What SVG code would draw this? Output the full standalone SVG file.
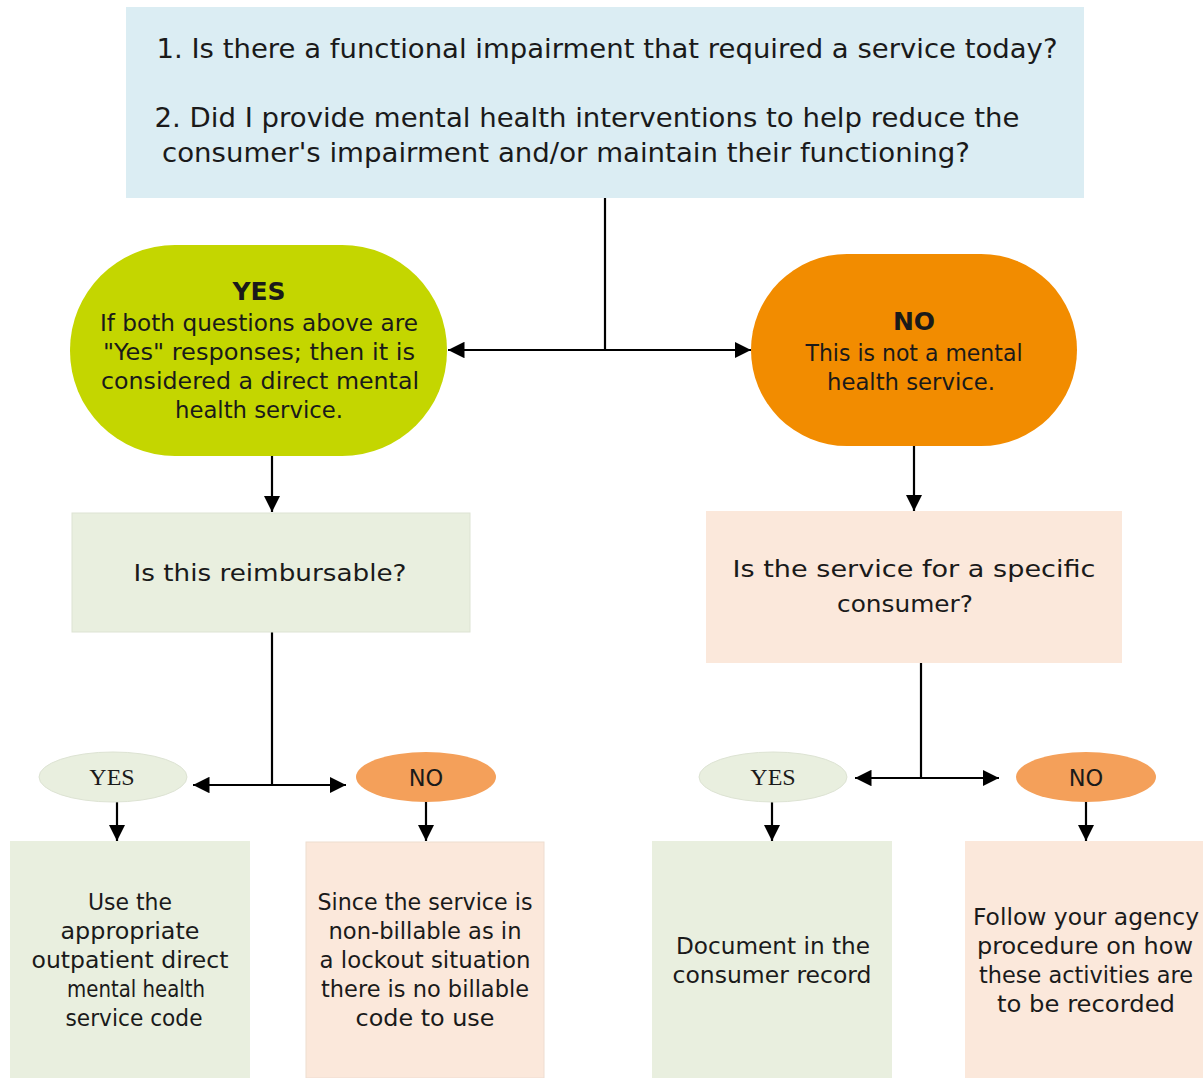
<svg xmlns="http://www.w3.org/2000/svg" width="1203" height="1078" viewBox="0 0 1203 1078">
<style>
.t{font-family:"DejaVu Sans","Liberation Sans",sans-serif;fill:#1a1a1a;text-anchor:middle}
.top{font-size:27px}
.b{font-size:22.5px}
.bold{font-weight:bold;font-size:25px}
.serif{font-family:"Liberation Serif",serif;font-size:24px;fill:#1a1a1a;text-anchor:middle}
.ln{stroke:#000;stroke-width:2.2;fill:none}
.green{fill:#e9efdf}
.pink{fill:#fbe8db}
</style>
<defs>
<marker id="ah" viewBox="0 0 10 10" refX="10" refY="5" markerWidth="7.5" markerHeight="7.5" markerUnits="strokeWidth" orient="auto-start-reverse">
<path d="M0,0 L10,5 L0,10 z" fill="#000"/>
</marker>
</defs>
<rect width="1203" height="1078" fill="#fff"/>
<g id="connectors">
<path class="ln" d="M605,198 V350"/>
<path class="ln" d="M448,350 H751" marker-start="url(#ah)" marker-end="url(#ah)"/>
<path class="ln" d="M272,456 V512" marker-end="url(#ah)"/>
<path class="ln" d="M914,446 V511" marker-end="url(#ah)"/>
<path class="ln" d="M272,632 V785"/>
<path class="ln" d="M193,785 H346" marker-start="url(#ah)" marker-end="url(#ah)"/>
<path class="ln" d="M117,802 V841" marker-end="url(#ah)"/>
<path class="ln" d="M426,802 V841" marker-end="url(#ah)"/>
<path class="ln" d="M921,663 V778"/>
<path class="ln" d="M855,778 H999" marker-start="url(#ah)" marker-end="url(#ah)"/>
<path class="ln" d="M772,802 V841" marker-end="url(#ah)"/>
<path class="ln" d="M1086,802 V841" marker-end="url(#ah)"/>
</g>
<g id="questions">
<rect x="126" y="7" width="958" height="191" fill="#dbedf3"/>
<text class="t top" x="607" y="58" textLength="901" lengthAdjust="spacingAndGlyphs">1. Is there a functional impairment that required a service today?</text>
<text class="t top" x="587" y="127" textLength="865" lengthAdjust="spacingAndGlyphs">2. Did I provide mental health interventions to help reduce the</text>
<text class="t top" x="566" y="162" textLength="808" lengthAdjust="spacingAndGlyphs">consumer's impairment and/or maintain their functioning?</text>
</g>
<g id="yes-main">
<rect x="70" y="245" width="377" height="211" rx="105" fill="#c4d600"/>
<text class="t bold" x="259" y="300">YES</text>
<text class="t b" x="259" y="331" textLength="318" lengthAdjust="spacingAndGlyphs">If both questions above are</text>
<text class="t b" x="259" y="360" textLength="312" lengthAdjust="spacingAndGlyphs">"Yes" responses; then it is</text>
<text class="t b" x="260" y="389" textLength="318" lengthAdjust="spacingAndGlyphs">considered a direct mental</text>
<text class="t b" x="259" y="418" textLength="168" lengthAdjust="spacingAndGlyphs">health service.</text>
</g>
<g id="no-main">
<rect x="751" y="254" width="326" height="192" rx="96" fill="#f28c00"/>
<text class="t bold" x="914" y="330">NO</text>
<text class="t b" x="914" y="361" textLength="217" lengthAdjust="spacingAndGlyphs">This is not a mental</text>
<text class="t b" x="911" y="390" textLength="168" lengthAdjust="spacingAndGlyphs">health service.</text>
</g>
<g id="reimbursable">
<rect class="green" x="72" y="513" width="398" height="119" stroke="#dde3d3" stroke-width="1"/>
<text class="t b" x="270" y="581" textLength="273" lengthAdjust="spacingAndGlyphs">Is this reimbursable?</text>
</g>
<g id="specific">
<rect class="pink" x="706" y="511" width="416" height="152"/>
<text class="t b" x="914" y="577" textLength="363" lengthAdjust="spacingAndGlyphs">Is the service for a specific</text>
<text class="t b" x="905" y="612" textLength="136" lengthAdjust="spacingAndGlyphs">consumer?</text>
</g>
<g id="yes-left">
<ellipse class="green" cx="113" cy="777" rx="74" ry="25" stroke="#dde3d3" stroke-width="1"/>
<text class="serif" x="112" y="785">YES</text>
</g>
<g id="no-left">
<ellipse cx="426" cy="777" rx="70" ry="25" fill="#f4a05a"/>
<text class="t b" x="426" y="786">NO</text>
</g>
<g id="yes-right">
<ellipse class="green" cx="773" cy="777" rx="74" ry="25" stroke="#dde3d3" stroke-width="1"/>
<text class="serif" x="773" y="785">YES</text>
</g>
<g id="no-right">
<ellipse cx="1086" cy="777" rx="70" ry="25" fill="#f4a05a"/>
<text class="t b" x="1086" y="786">NO</text>
</g>
<g id="use-code">
<rect class="green" x="10" y="841" width="240" height="237"/>
<text class="t b" x="130" y="910" textLength="84" lengthAdjust="spacingAndGlyphs">Use the</text>
<text class="t b" x="130" y="939" textLength="139" lengthAdjust="spacingAndGlyphs">appropriate</text>
<text class="t b" x="130" y="968" textLength="197" lengthAdjust="spacingAndGlyphs">outpatient direct</text>
<text class="t b" x="136" y="997" textLength="138" lengthAdjust="spacingAndGlyphs">mental health</text>
<text class="t b" x="134" y="1026" textLength="137" lengthAdjust="spacingAndGlyphs">service code</text>
</g>
<g id="non-billable">
<rect class="pink" x="306" y="842" width="238" height="236" stroke="#eeddd0" stroke-width="1"/>
<text class="t b" x="425" y="910" textLength="215" lengthAdjust="spacingAndGlyphs">Since the service is</text>
<text class="t b" x="425" y="939" textLength="193" lengthAdjust="spacingAndGlyphs">non-billable as in</text>
<text class="t b" x="425" y="968" textLength="211" lengthAdjust="spacingAndGlyphs">a lockout situation</text>
<text class="t b" x="425" y="997" textLength="208" lengthAdjust="spacingAndGlyphs">there is no billable</text>
<text class="t b" x="425" y="1026" textLength="139" lengthAdjust="spacingAndGlyphs">code to use</text>
</g>
<g id="document">
<rect class="green" x="652" y="841" width="240" height="237"/>
<text class="t b" x="773" y="954" textLength="194" lengthAdjust="spacingAndGlyphs">Document in the</text>
<text class="t b" x="772" y="983" textLength="199" lengthAdjust="spacingAndGlyphs">consumer record</text>
</g>
<g id="follow">
<rect class="pink" x="965" y="841" width="238" height="237"/>
<text class="t b" x="1086" y="925" textLength="226" lengthAdjust="spacingAndGlyphs">Follow your agency</text>
<text class="t b" x="1085" y="954" textLength="216" lengthAdjust="spacingAndGlyphs">procedure on how</text>
<text class="t b" x="1086" y="983" textLength="214" lengthAdjust="spacingAndGlyphs">these activities are</text>
<text class="t b" x="1086" y="1012" textLength="178" lengthAdjust="spacingAndGlyphs">to be recorded</text>
</g>
</svg>
